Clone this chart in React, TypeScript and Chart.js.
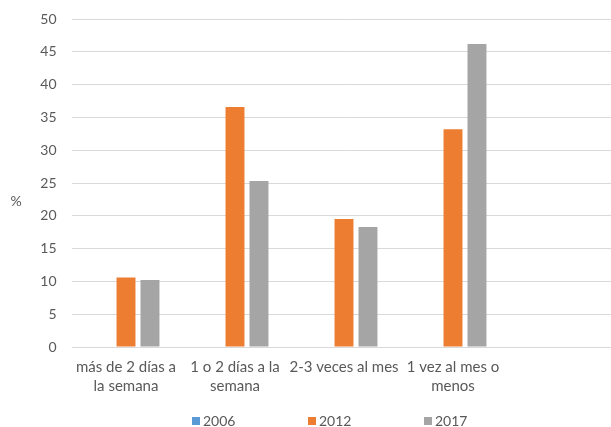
import { useEffect, useRef } from "react";
import { Chart, registerables } from "chart.js";

Chart.register(...registerables);

// Frequency categories (the last slot is intentionally left blank)
const categories: string[][] = [
  ["más de 2 días a", "la semana"],
  ["1 o 2 días a la", "semana"],
  ["2-3 veces al mes"],
  ["1 vez al mes o", "menos"],
  [""],
];

const seriesLabels = ["2006", "2012", "2017"];
const values2006: (number | null)[] = [null, null, null, null, null];
const values2012: (number | null)[] = [10.6, 36.6, 19.5, 33.2, null];
const values2017: (number | null)[] = [10.2, 25.3, 18.3, 46.2, null];

const yMin = 0;
const yMax = 50;
const yStep = 5;
const yTitle = "%";

const colors = ["#5B9BD5", "#ED7D31", "#A5A5A5"];
const textColor = "#595959";
const gridColor = "#D9D9D9";
const fontFamily = "Lato, 'Liberation Sans', sans-serif";

// Draws the horizontal legend row and the "%" axis caption
const extrasPlugin = {
  id: "extras",
  afterDraw(chart: any, _args: any, opts: any) {
    const ctx = chart.ctx;
    ctx.save();
    ctx.font = `14px ${fontFamily}`;
    ctx.fillStyle = textColor;
    ctx.textBaseline = "middle";
    ctx.textAlign = "center";
    ctx.fillText(yTitle, opts.titleX, opts.titleY);

    ctx.textAlign = "left";
    chart.data.datasets.forEach((ds: any, i: number) => {
      const x = opts.legendX + i * opts.legendStep;
      const y = opts.legendY;
      ctx.fillStyle = ds.backgroundColor;
      ctx.fillRect(x, y - 4, 8, 8);
      ctx.fillStyle = textColor;
      ctx.fillText(ds.label, x + 11, y);
    });
    ctx.restore();
  },
};

export default function App() {
  const canvasRef = useRef<HTMLCanvasElement | null>(null);

  useEffect(() => {
    if (!canvasRef.current) return;
    const data = [values2006, values2012, values2017];
    const chart = new Chart(canvasRef.current, {
      type: "bar",
      data: {
        labels: categories as any,
        datasets: seriesLabels.map((label, i) => ({
          label,
          data: data[i],
          backgroundColor: colors[i],
          borderWidth: 0,
          categoryPercentage: 0.66,
          barPercentage: 0.79,
        })),
      },
      plugins: [extrasPlugin],
      options: {
        responsive: false,
        animation: false,
        devicePixelRatio: 1,
        layout: { padding: { left: 0, right: 3.5, top: 19, bottom: 0 } },
        plugins: {
          legend: { display: false },
          tooltip: { enabled: false },
          extras: {
            titleX: 16,
            titleY: 201,
            legendX: 192,
            legendStep: 116,
            legendY: 421,
          },
        } as any,
        scales: {
          x: {
            grid: { display: false, drawTicks: false },
            border: { display: false },
            ticks: {
              color: textColor,
              font: { family: fontFamily, size: 15, lineHeight: 1.27 },
              padding: 11,
              maxRotation: 0,
              minRotation: 0,
              autoSkip: false,
            },
            afterFit(scale: any) {
              scale.height = 80;
            },
          },
          y: {
            min: yMin,
            max: yMax,
            grid: { color: gridColor, lineWidth: 1, drawTicks: false },
            border: { display: false },
            ticks: {
              stepSize: yStep,
              color: textColor,
              font: { family: fontFamily, size: 14 },
              padding: 15,
            },
            afterFit(scale: any) {
              scale.width = 71.5;
              // the layout padding alone decides the plot's top and bottom
              scale.paddingTop = 0;
              scale.paddingBottom = 0;
            },
          },
        },
      },
    });
    return () => chart.destroy();
  }, []);

  return (
    <div
      style={{
        position: "fixed",
        left: 0,
        top: 0,
        width: 611,
        height: 427,
        overflow: "hidden",
        background: "#fff",
      }}
    >
      <canvas ref={canvasRef} width={620} height={427} />
    </div>
  );
}
